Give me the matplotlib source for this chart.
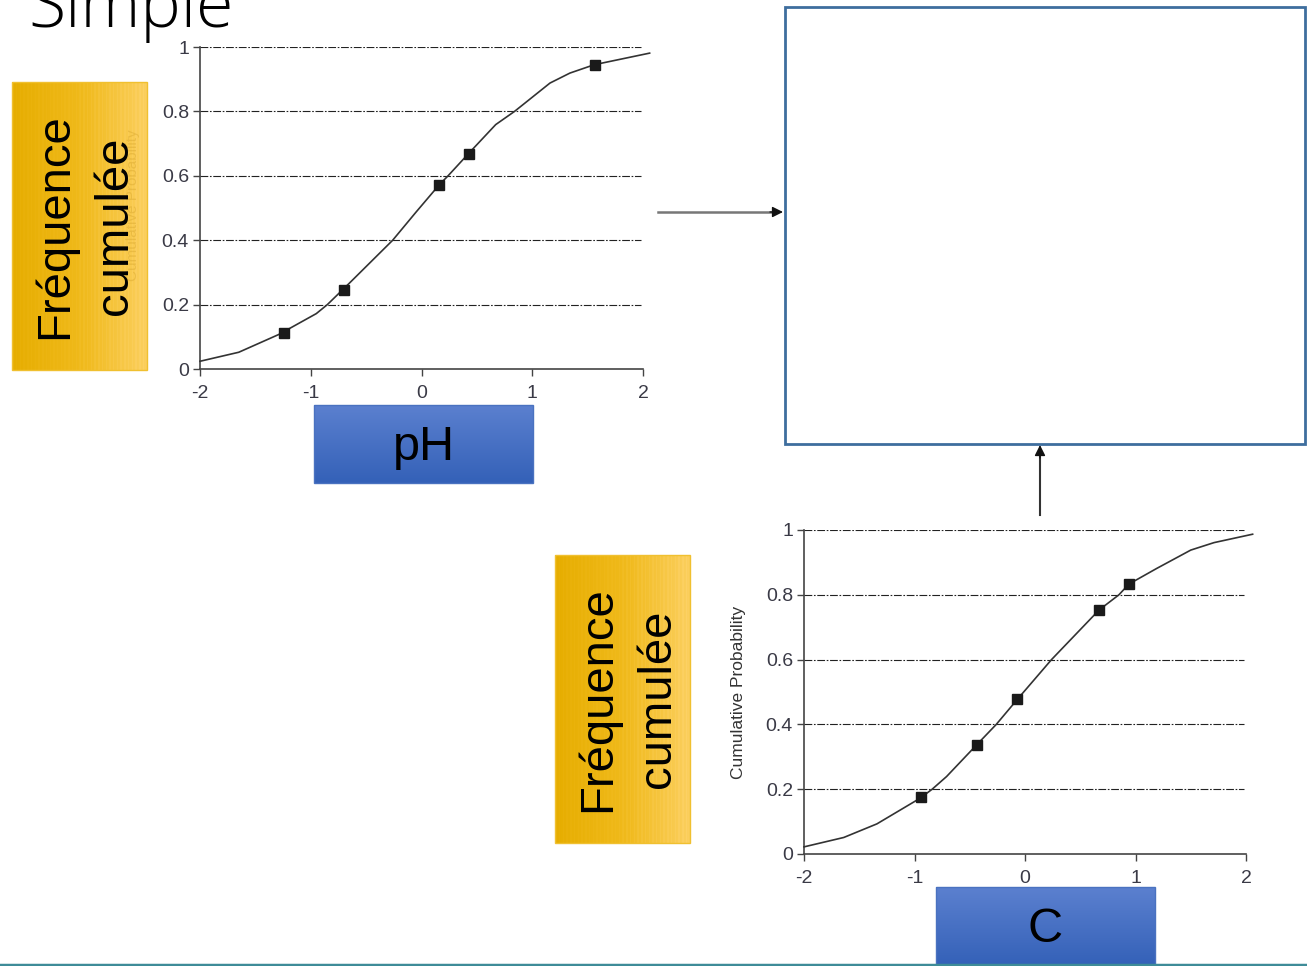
import numpy as np
import matplotlib.pyplot as plt
from matplotlib.patches import Rectangle
from matplotlib.colors import LinearSegmentedColormap

# DIMENSIONS DE LA DIAPO (pixels)
W, H = 1307, 966

# DONNÉES
ph_curve_x = [-2.0, -1.65, -1.29, -0.95, -0.85, -0.65, -0.26, -0.05, 0.16, 0.24, 0.43, 0.67, 0.84, 1.16, 1.34, 1.56, 2.06]
ph_curve_y = [0.024, 0.052, 0.107, 0.172, 0.200, 0.267, 0.400, 0.487, 0.572, 0.600, 0.671, 0.759, 0.800, 0.888, 0.919, 0.945, 0.981]
ph_pts_x = [-1.24, -0.70, 0.16, 0.43, 1.57]
ph_pts_y = [0.112, 0.246, 0.570, 0.669, 0.945]

c_curve_x = [-2.0, -1.64, -1.34, -0.95, -0.84, -0.71, -0.44, -0.26, -0.07, 0.24, 0.67, 0.85, 0.94, 1.19, 1.50, 1.71, 2.06]
c_curve_y = [0.022, 0.051, 0.093, 0.172, 0.200, 0.239, 0.336, 0.400, 0.477, 0.600, 0.753, 0.800, 0.833, 0.881, 0.938, 0.961, 0.987]
c_pts_x = [-0.94, -0.43, -0.07, 0.67, 0.945]
c_pts_y = [0.175, 0.336, 0.477, 0.753, 0.832]

xticks = [-2, -1, 0, 1, 2]
xticklabels = ["-2", "-1", "0", "1", "2"]
yticks = [0, 0.2, 0.4, 0.6, 0.8, 1]
yticklabels = ["0", "0.2", "0.4", "0.6", "0.8", "1"]

titre = "Simple"
label_ph = "pH"
label_c = "C"
label_cp = "Cumulative Probability"

plt.rcParams['font.family'] = ['Liberation Sans', 'DejaVu Sans']


def rect(x0, y0, x1, y1):
    return [x0 / W, 1 - y1 / H, (x1 - x0) / W, (y1 - y0) / H]


fig = plt.figure(figsize=(W / 100, H / 100), dpi=100)

# calque de fond (boîtes, flèches, textes)
bg = fig.add_axes([0, 0, 1, 1])
bg.set_xlim(0, W)
bg.set_ylim(H, 0)
bg.axis("off")

# titre coupé en haut
bg.text(28, 27, titre, fontsize=49, family=["Open Sans", "DejaVu Sans"], fontweight="light",
        ha="left", va="baseline", color="black")

# boîtes oranges (dégradé avec stries verticales)
n = 270
t = np.linspace(0, 1, n)
grad = (0.85 * t + 0.06 * (np.sin(np.arange(n) * 2.3) > 0.3)).reshape(1, -1)
orange = LinearSegmentedColormap.from_list("or", ["#E6AD00", "#F0BA1C", "#FDD267"])
for (x0, y0, x1, y1, c1, c2) in [(12, 82, 147, 370, 55, 115), (555, 555, 690, 843, 598, 658)]:
    bg.imshow(grad, cmap=orange, extent=[x0, x1, y1, y0], aspect="auto", zorder=1,
              interpolation="nearest")
    bg.add_patch(Rectangle((x0, y0), x1 - x0, y1 - y0, fill=False, ec="#F0C030", lw=1, zorder=2))
    yc = (y0 + y1) / 2
    bg.text(c1, yc, "Fréquence", rotation=90, fontsize=34, ha="center", va="center", zorder=3)
    bg.text(c2, yc, "cumulée", rotation=90, fontsize=34, ha="center", va="center", zorder=3)

# texte fantôme derrière la boîte du haut
bg.text(133, 205, label_cp, rotation=90, fontsize=11, ha="center", va="center",
        color="#D9A830", alpha=0.45, zorder=2)

# boîtes bleues
blue = LinearSegmentedColormap.from_list("bl", ["#3461B8", "#5B80CF"])
vgrad = np.linspace(0, 1, 100).reshape(-1, 1)
for (x0, y0, x1, y1, txt) in [(314, 405, 533, 483, label_ph), (936, 887, 1155, 966, label_c)]:
    bg.imshow(vgrad, cmap=blue, extent=[x0, x1, y1, y0], aspect="auto", zorder=1, origin="lower")
    bg.add_patch(Rectangle((x0, y0), x1 - x0, y1 - y0, fill=False, ec="#4A72C0", lw=1, zorder=2))
    bg.text((x0 + x1) / 2, (y0 + y1) / 2 + 3, txt, fontsize=35, ha="center", va="center", zorder=3)

# grand cadre à droite
bg.add_patch(Rectangle((785, 7), 520, 437, fill=False, ec="#3E6E9E", lw=2, zorder=2))

# flèches
bg.plot([658, 772], [212, 212], color="#777777", lw=1.8)
bg.annotate("", xy=(783, 212), xytext=(770, 212),
            arrowprops=dict(arrowstyle="-|>", color="#111111", lw=1, mutation_scale=16,
                            shrinkA=0, shrinkB=0))
bg.plot([1040, 1040], [515, 455], color="#333333", lw=1.5)
bg.annotate("", xy=(1040, 445), xytext=(1040, 458),
            arrowprops=dict(arrowstyle="-|>", color="#111111", lw=1, mutation_scale=16,
                            shrinkA=0, shrinkB=0))

# bande en bas de la diapo
bg.plot([0, W], [964.5, 964.5], color="#3E8C98", lw=2.5, zorder=2)

# label "Cumulative Probability" du graphique du bas
bg.text(738, 692, label_cp, rotation=90, fontsize=12.5, ha="center", va="center", color="#333333")


def draw_cdf(box, cx, cy, px, py):
    ax = fig.add_axes(rect(*box))
    ax.patch.set_alpha(0)
    ax.plot(cx, cy, color="#333333", lw=1.2, clip_on=False, zorder=3)
    ax.plot(px, py, "s", color="#1a1a1a", ms=7.5, clip_on=False, zorder=4)
    ax.hlines(yticks[1:], -2, 1.98, colors="#222222", lw=0.8,
              linestyles=(0, (7, 1.5, 1.5, 1.5)), zorder=1)
    ax.set_xlim(-2, 2)
    ax.set_ylim(0, 1)
    ax.set_xticks(xticks)
    ax.set_xticklabels(xticklabels)
    ax.set_yticks(yticks)
    ax.set_yticklabels(yticklabels)
    for s in ["top", "right"]:
        ax.spines[s].set_visible(False)
    for s in ["left", "bottom"]:
        ax.spines[s].set_color("#444444")
        ax.spines[s].set_linewidth(1.2)
    ax.tick_params(axis="both", labelsize=14, colors="#444444", labelcolor="#3a3a46",
                   length=5, width=1)
    ax.tick_params(axis="x", pad=6.5)
    ax.tick_params(axis="y", pad=3)
    return ax


draw_cdf((200, 47, 643, 369), ph_curve_x, ph_curve_y, ph_pts_x, ph_pts_y)
draw_cdf((804, 530, 1246, 854), c_curve_x, c_curve_y, c_pts_x, c_pts_y)

plt.savefig("out.png", dpi=100)
